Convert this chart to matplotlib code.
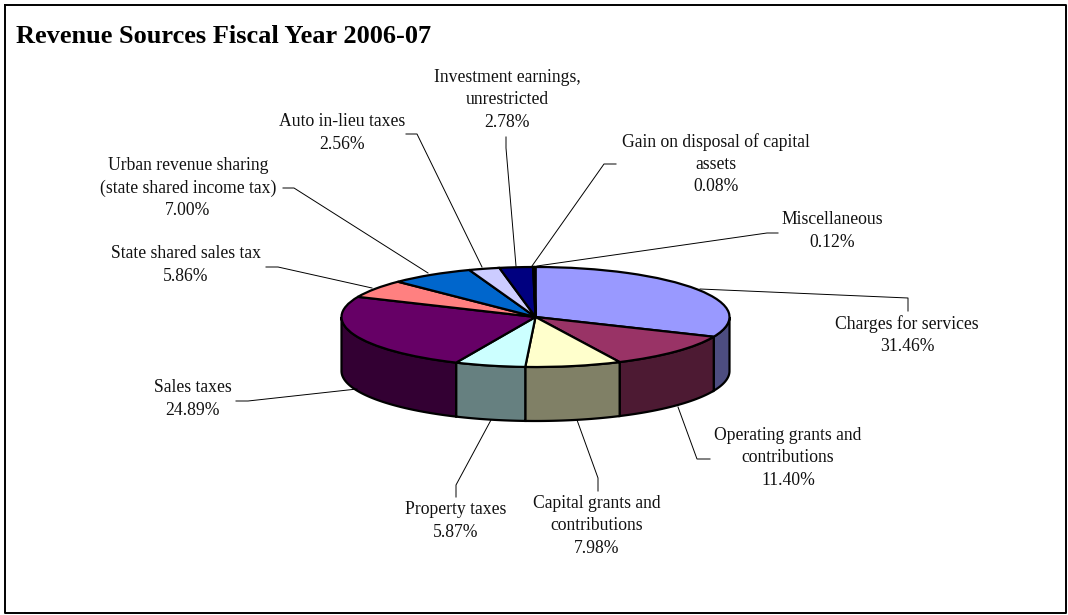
# Revenue sources, 3D style pie chart

import numpy as np
import matplotlib
matplotlib.use("Agg")
import matplotlib.pyplot as plt

names = ["Charges for services", "Operating grants and\ncontributions",
         "Capital grants and\ncontributions", "Property taxes", "Sales taxes",
         "State shared sales tax", "Urban revenue sharing\n(state shared income tax)",
         "Auto in-lieu taxes", "Investment earnings,\nunrestricted",
         "Gain on disposal of capital\nassets", "Miscellaneous"]
values = [31.46, 11.40, 7.98, 5.87, 24.89, 5.86, 7.00, 2.56, 2.78, 0.08, 0.12]
top_colors = ["#9999FF", "#993366", "#FFFFCC", "#CCFFFF", "#660066", "#FF8080",
              "#0066CC", "#CCCCFF", "#000080", "#FF00FF", "#FFFF00"]
side_colors = ["#4D4D80", "#4D1A33", "#808066", "#668080", "#330033", "#804040",
               "#003366", "#666680", "#000040", "#800080", "#808000"]

# label centre in pixels
label_x = [907, 788, 597, 456, 193, 186, 188, 342, 507, 716, 832]
label_y = [335, 458, 526, 521, 399, 265, 188, 133, 100, 164, 231]
# leader lines in pixels
leaders = [[(908, 311), (908, 298), (700, 289)],
           [(710, 459), (697, 459), (678, 407)],
           [(598, 491), (598, 478), (577, 420)],
           [(456, 497), (456, 485), (491, 420)],
           [(236, 401), (248, 401), (357, 389)],
           [(266, 267), (278, 267), (372, 288)],
           [(283, 188), (294, 188), (428, 273)],
           [(406, 134), (417, 134), (482, 267)],
           [(506, 137), (506, 148), (516, 266)],
           [(616, 164), (604, 164), (532, 266)],
           [(778, 233), (767, 233), (537, 266)]]

W, H = 1068, 615
cx, cy, rx, ry, depth = 535.5, 317, 194, 50, 54

fig = plt.figure(figsize=(W / 100, H / 100), dpi=100, facecolor="white")

# pie goes in an axes scaled so the unit circle becomes the ellipse
ax = fig.add_axes([0, 0, 1, 1])
ax.pie(values, colors=top_colors, startangle=90, counterclock=False,
       wedgeprops=dict(edgecolor="black", linewidth=1.6, zorder=3))
ax.set_aspect("auto")
ax.set_xlim(-cx / rx, (W - cx) / rx)
ax.set_ylim((cy - H) / ry, cy / ry)

# side walls, only the front half shows
edges = np.concatenate([[0], np.cumsum(values)]) / sum(values) * 360
drop = depth / ry
for i in range(len(values)):
    a1, a2 = max(edges[i], 90), min(edges[i + 1], 270)
    if a2 <= a1:
        continue
    a = np.radians(np.linspace(a1, a2, 60))
    x = np.sin(a)
    y = np.cos(a)
    ax.fill(np.concatenate([x, x[::-1]]), np.concatenate([y, y[::-1] - drop]),
            facecolor=side_colors[i], edgecolor="black", linewidth=1.6, zorder=2)

# overlay in pixel coordinates for the text and the frame
over = fig.add_axes([0, 0, 1, 1])
over.set_xlim(0, W)
over.set_ylim(H, 0)
over.axis("off")
over.patch.set_alpha(0)

over.plot([5, 1066, 1066, 5, 5], [5, 5, 613, 613, 5], color="black", lw=1.4)
over.text(16, 43, "Revenue Sources Fiscal Year 2006-07", family="Liberation Serif",
          weight="bold", fontsize=19, ha="left", va="baseline", color="black")

for i in range(len(values)):
    over.plot(*zip(*leaders[i]), color="black", lw=0.7)
    over.text(label_x[i], label_y[i], f"{names[i]}\n{values[i]:.2f}%",
              family="Liberation Serif", fontsize=12.7, ha="center", va="center",
              linespacing=1.4, color="#111111")

fig.savefig("out.png", dpi=100)
